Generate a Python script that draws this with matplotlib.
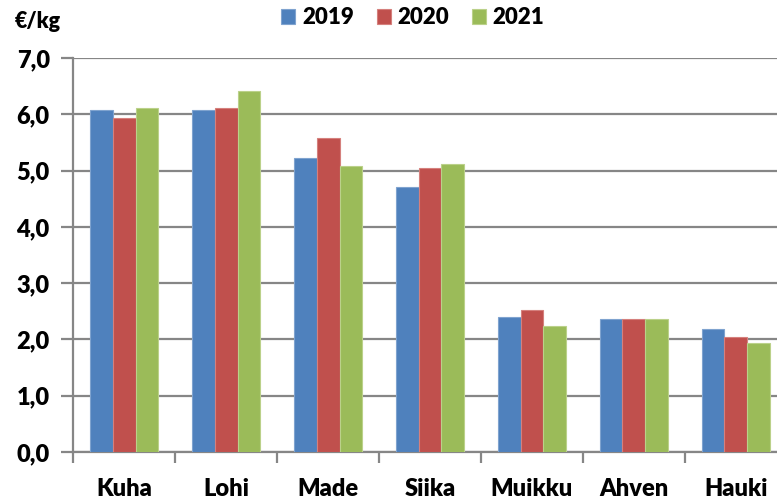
import matplotlib
matplotlib.use("Agg")
import matplotlib.pyplot as plt
import numpy as np
from matplotlib.ticker import FixedLocator, FixedFormatter

plt.rcParams['font.family'] = ['Lato', 'DejaVu Sans']
plt.rcParams['font.weight'] = 'heavy'

fish = ['Kuha', 'Lohi', 'Made', 'Siika', 'Muikku', 'Ahven', 'Hauki']
years = ['2019', '2020', '2021']
p2019 = [6.07, 6.07, 5.22, 4.71, 2.40, 2.37, 2.18]
p2020 = [5.93, 6.12, 5.57, 5.04, 2.52, 2.36, 2.04]
p2021 = [6.12, 6.42, 5.09, 5.12, 2.24, 2.37, 1.94]
yticks = [0, 1, 2, 3, 4, 5, 6, 7]
ylabels = ['0,0', '1,0', '2,0', '3,0', '4,0', '5,0', '6,0', '7,0']

colors = ['#4F81BD', '#C0504D', '#9BBB59']
edges = ['#7FA3CF', '#D5807D', '#BBD18A']
gray = '#868686'

fig = plt.figure(figsize=(7.77, 5.0), dpi=100)
ax = fig.add_axes([73.4 / 777, 48 / 500, 713.3 / 777, 394 / 500])

x = np.arange(len(fish))
w = 0.223
for i, (vals, yr) in enumerate(zip([p2019, p2020, p2021], years)):
    ax.bar(x + (i - 1) * w, vals, w, color=colors[i], edgecolor=edges[i],
           linewidth=0.8, label=yr, zorder=3)

ax.set_xlim(-0.5, 6.5)
ax.set_ylim(0, 7)
ax.yaxis.set_major_locator(FixedLocator(yticks))
ax.yaxis.set_major_formatter(FixedFormatter(ylabels))
ax.set_xticks(x)
ax.set_xticklabels(fish)
ax.set_xticks(np.arange(-0.5, 7, 1), minor=True)

ax.grid(axis='y', color=gray, linewidth=1.6, zorder=0)
for s in ['top', 'right']:
    ax.spines[s].set_visible(False)
for s in ['left', 'bottom']:
    ax.spines[s].set_color(gray)
    ax.spines[s].set_linewidth(1.6)

ax.tick_params(axis='y', length=9, width=1.6, color=gray, pad=8,
               labelsize=17)
ax.tick_params(axis='x', which='major', length=0, pad=19, labelsize=17)
ax.tick_params(axis='x', which='minor', length=8, width=1.6, color=gray)

fig.text(15 / 777, 1 - 22 / 500, '€/kg', fontsize=15.5, fontweight='heavy',
         va='center', ha='left')

fig.legend(loc='center', bbox_to_anchor=(413 / 777, 1 - 18 / 500), ncol=3,
           frameon=False, fontsize=16, handlelength=0.63, handleheight=0.63,
           handletextpad=0.32, columnspacing=1.0, borderpad=0)

fig.savefig('out.png', dpi=100)
